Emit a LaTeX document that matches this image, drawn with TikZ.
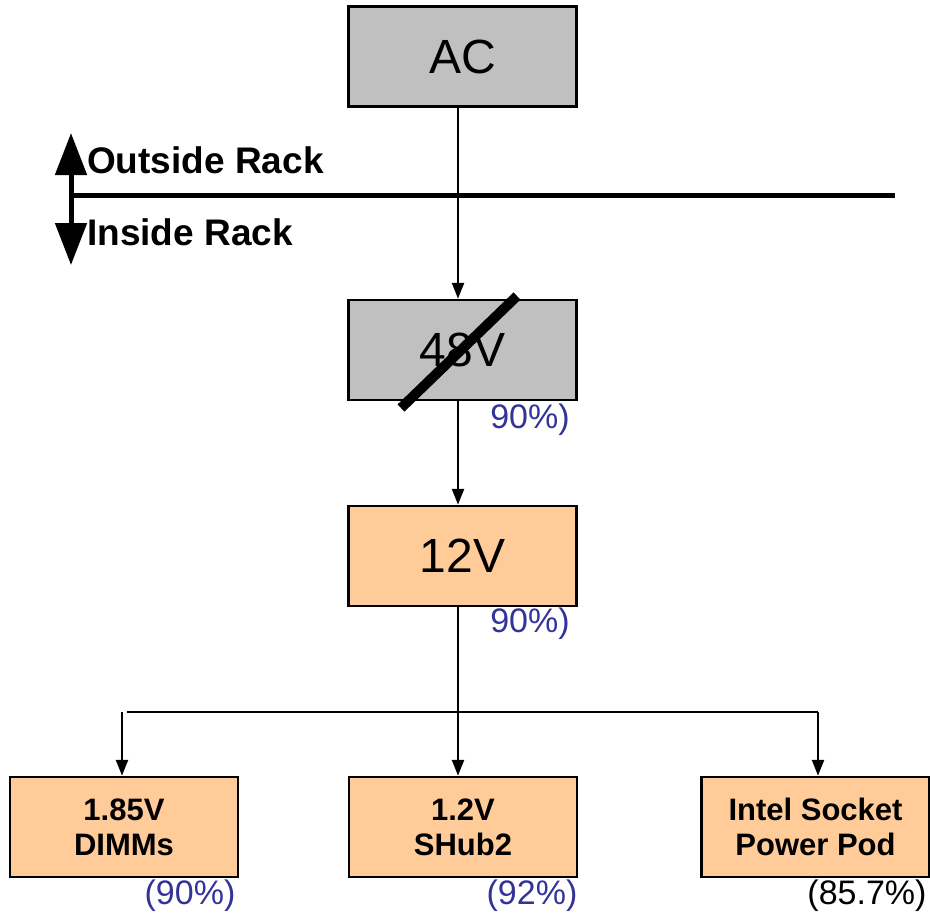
\documentclass[tikz,border=0pt]{standalone}
\usepackage{fontspec}
\setmainfont{Liberation Sans}
\usetikzlibrary{arrows.meta}
\definecolor{boxgray}{HTML}{C0C0C0}
\definecolor{boxorange}{HTML}{FFCC99}
\definecolor{pctblue}{HTML}{333399}

\begin{document}
\begin{tikzpicture}[x=1pt,y=-1pt,
  box/.style={draw,line width=2.5pt,minimum width=228pt,minimum height=100pt,inner sep=0pt},
  graybox/.style={box,fill=boxgray,font=\fontsize{48}{50}\selectfont},
  orangebox/.style={box,fill=boxorange},
  volttext/.style={font=\fontsize{48}{50}\selectfont},
  loadtext/.style={font=\fontsize{31}{35}\selectfont\bfseries,align=center},
  racktext/.style={inner sep=0pt,anchor=west,font=\fontsize{37}{39}\selectfont\bfseries},
  pct/.style={inner sep=0pt,font=\fontsize{34}{36}\selectfont,text=pctblue},
  feed/.style={line width=2.4pt,-{Triangle[length=16pt,width=12pt]}}]
	\useasboundingbox (0,0) rectangle (930,914);

	% supply chain
	\node[graybox] (ac) at (462.5,56.5) {AC};
	\node[graybox] (v48) at (462.5,350) {48V};
	\node[orangebox,volttext] (v12) at (462.5,556) {12V};

	% loads
	\node[orangebox,loadtext] (dimms) at (124,827) {1.85V\\DIMMs};
	\node[orangebox,loadtext] (shub) at (463,827) {1.2V\\SHub2};
	\node[orangebox,loadtext] (pod) at (815.5,827) {Intel Socket\\Power Pod};

	% efficiencies
	\node[pct] (p48) at (530,420) {90\%)};
	\node[pct] (p12) at (530,624) {90\%)};
	\node[pct] (pdimms) at (190,896) {(90\%)};
	\node[pct] (pshub) at (532,896) {(92\%)};
	\node[pct,text=black] (ppod) at (867,896) {(85.7\%)};

	% rack boundary
	\coordinate (railL) at (71,195);
	\coordinate (railR) at (895,195);
	\coordinate (up) at (71,133);
	\coordinate (down) at (71,265);
	\draw[line width=5pt] (railL) -- (railR);
	\draw[line width=5pt,{Triangle[length=42pt,width=31pt]}-{Triangle[length=42pt,width=31pt]}] (up) -- (down);
	\node[racktext] (outside) at (87,160) {Outside Rack};
	\node[racktext] (inside) at (87,232) {Inside Rack};

	% 48V crossed out
	\draw[line width=10pt] (401,408) -- (517,296);

	% connectors
	\coordinate (bus) at (458,712);
	\coordinate (busL) at (127,712);
	\coordinate (busR) at (818,712);
	\draw[feed] ([xshift=-4.5pt]ac.south) -- ([xshift=-4.5pt]v48.north);
	\draw[feed] ([xshift=-4.5pt]v48.south) -- ([xshift=-4.5pt]v12.north);
	\draw[feed] ([xshift=-4.5pt]v12.south) -- (bus) -- (bus |- shub.north);
	\draw[line width=2.4pt] (busL) -- (busR);
	\draw[feed] (busL -| 122,0) -- (dimms.north -| 122,0);
	\draw[feed] (busR) -- (busR |- pod.north);
\end{tikzpicture}
\end{document}
